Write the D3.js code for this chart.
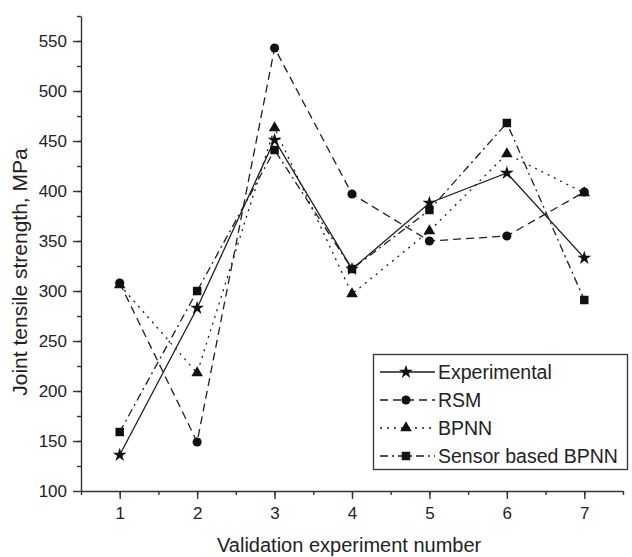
<!DOCTYPE html>
<html>
<head>
<meta charset="utf-8">
<script src="https://cdn.jsdelivr.net/npm/d3@7"></script>
<style>
  body { margin: 0; background: #fff; }
  #chart { width: 632px; height: 557px; }
  text { font-family: "Liberation Sans", Arial, sans-serif; fill: #222; }
  .axis path, .axis line { stroke: #333; stroke-width: 1.4; }
  .axis text { font-size: 17px; }
  .series { fill: none; stroke: #1e1e1e; stroke-width: 1.3; }
</style>
</head>
<body>
<div id="chart"></div>
<script>
const experiments = [1, 2, 3, 4, 5, 6, 7];
const experimental = [136, 283, 451, 322, 388, 418, 333];
const rsm = [308, 149, 543, 397, 350, 355, 399];
const bpnn = [306, 218, 463, 297, 360, 437, 398];
const sensorBpnn = [159, 300, 441, 322, 381, 468, 291];

const seriesNames = ["Experimental", "RSM", "BPNN", "Sensor based BPNN"];
const yTicks = [100, 150, 200, 250, 300, 350, 400, 450, 500, 550];

const series = [
    { name: seriesNames[0], values: experimental, dash: null, symbol: d3.symbolStar, size: 60 },
    { name: seriesNames[1], values: rsm, dash: "8,5", symbol: d3.symbolCircle, size: 66 },
    { name: seriesNames[2], values: bpnn, dash: "2,5", symbol: d3.symbolTriangle, size: 58 },
    { name: seriesNames[3], values: sensorBpnn, dash: "8,4,2,4", symbol: d3.symbolSquare, size: 72 }
];

const margin = { top: 16, right: 9, bottom: 66, left: 81 };
const width = 632 - margin.left - margin.right;
const height = 557 - margin.top - margin.bottom;

const svg = d3.select("#chart")
    .append("svg")
    .attr("width", 632)
    .attr("height", 557);

const g = svg.append("g")
    .attr("transform", `translate(${margin.left},${margin.top})`);

const x = d3.scaleLinear()
    .domain([0.5, 7.5])
    .range([0, width]);

const y = d3.scaleLinear()
    .domain([100, 575])
    .range([height, 0]);

// minor ticks first
g.append("g")
    .attr("class", "axis")
    .attr("transform", `translate(0,${height})`)
    .call(d3.axisBottom(x).tickValues(d3.range(0.5, 7.6, 0.5)).tickSize(4).tickFormat(""))
    .select(".domain").remove();

g.append("g")
    .attr("class", "axis")
    .call(d3.axisLeft(y).tickValues(d3.range(125, 576, 25)).tickSize(4).tickFormat(""))
    .select(".domain").remove();

g.append("g")
    .attr("class", "axis")
    .attr("transform", `translate(0,${height})`)
    .call(d3.axisBottom(x).tickValues(experiments).tickSize(8).tickSizeOuter(0).tickPadding(8).tickFormat(d3.format("d")));

g.append("g")
    .attr("class", "axis")
    .call(d3.axisLeft(y).tickValues(yTicks).tickSize(8).tickSizeOuter(0).tickPadding(6));

g.append("text")
    .attr("x", 217 - margin.left)
    .attr("y", height + 61)
    .style("font-size", "20px")
    .text("Validation experiment number");

g.append("text")
    .attr("transform", `translate(${20 - margin.left},${272 - margin.top}) rotate(-90)`)
    .attr("text-anchor", "middle")
    .attr("dy", "0.35em")
    .style("font-size", "21px")
    .text("Joint tensile strength, MPa");

const line = d3.line()
    .x((d, i) => x(experiments[i]))
    .y(d => y(d));

series.forEach(s => {
    g.append("path")
        .datum(s.values)
        .attr("class", "series")
        .attr("stroke-dasharray", s.dash)
        .attr("d", line);
});

series.forEach(s => {
    g.selectAll(null)
        .data(s.values)
        .join("path")
        .attr("transform", (d, i) => `translate(${x(experiments[i])},${y(d)})`)
        .attr("d", d3.symbol(s.symbol, s.size))
        .attr("fill", "#111");
});

// legend
const legend = svg.append("g")
    .attr("transform", "translate(373,354)");

legend.append("rect")
    .attr("x", 0.5)
    .attr("y", 0.5)
    .attr("width", 254)
    .attr("height", 115)
    .attr("fill", "#fff")
    .attr("stroke", "#333")
    .attr("stroke-width", 1.3);

const rows = legend.selectAll(".row")
    .data(series)
    .join("g")
    .attr("class", "row")
    .attr("transform", (d, i) => `translate(0,${18 + i * 28})`);

rows.append("line")
    .attr("class", "series")
    .attr("x1", 7)
    .attr("x2", 62)
    .attr("stroke-dasharray", d => d.dash);

rows.append("path")
    .attr("transform", "translate(33,0)")
    .attr("d", d => d3.symbol(d.symbol, d.size)())
    .attr("fill", "#111");

rows.append("text")
    .attr("x", 65)
    .attr("dy", "0.35em")
    .style("font-size", "19.5px")
    .text(d => d.name);
</script>
</body>
</html>
